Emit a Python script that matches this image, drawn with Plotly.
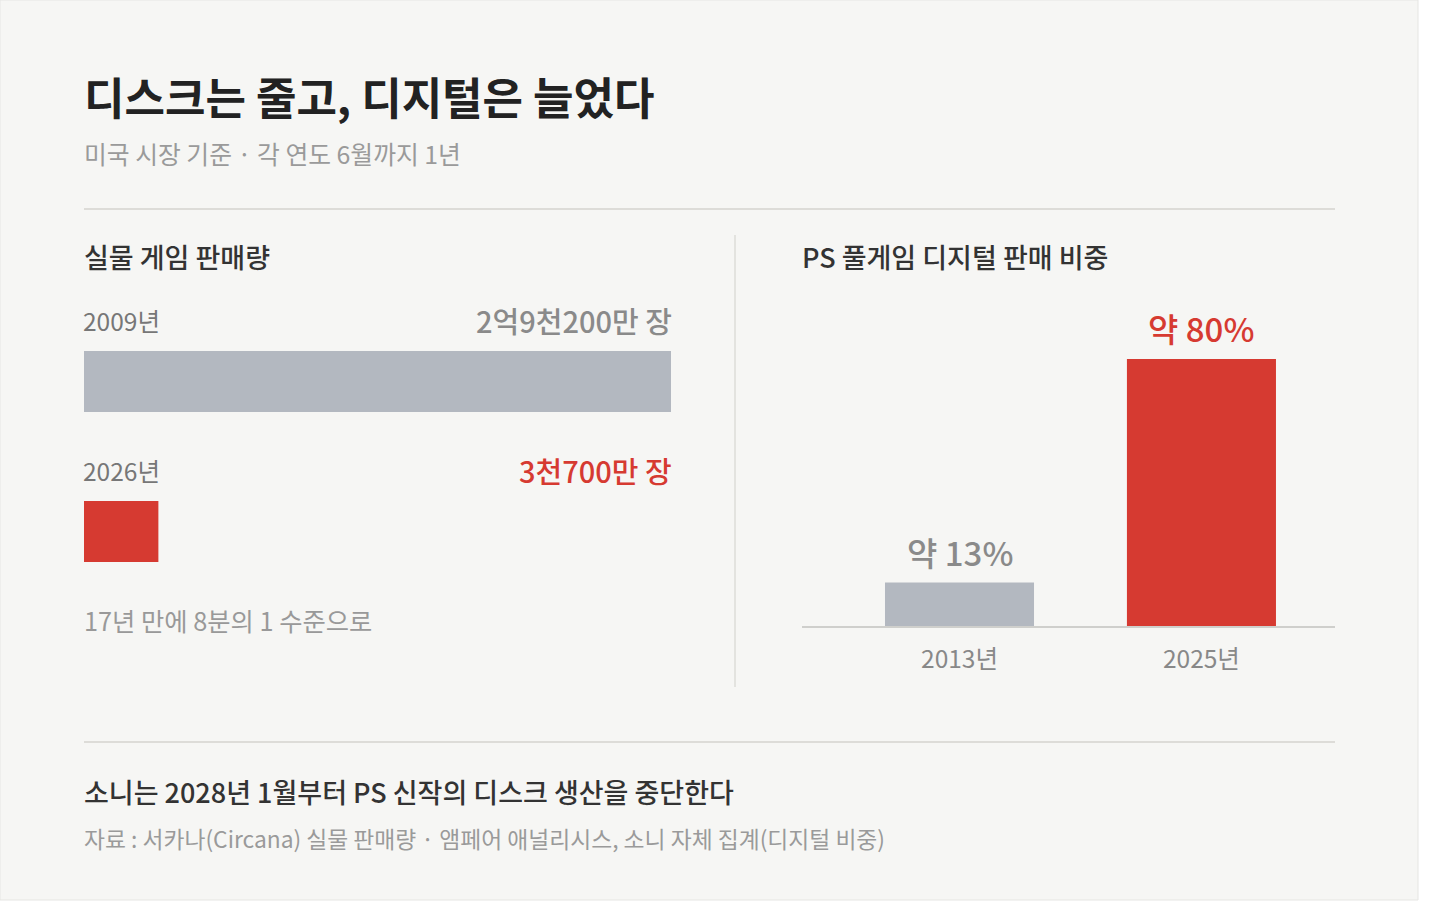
import plotly.graph_objects as go

# 실물 게임 판매량 (백만 장)
physical_years = ["2009년", "2026년"]
physical_sales = [292, 37]
physical_labels = ["2억9천200만 장", "3천700만 장"]

# PS 풀게임 디지털 판매 비중 (%)
digital_years = ["2013년", "2025년"]
digital_share = [13, 80]
digital_labels = ["약 13%", "약 80%"]

W, H = 1440, 923
bg = '#f6f6f4'
red = '#d63a31'
grey_bar = '#b3b8c0'
line_col = '#dddcd8'
FONT = "Noto Sans CJK KR"


def px(x):
    return x / W


def py(y):
    return 1 - y / H


fig = go.Figure()

# 왼쪽: 가로 막대
fig.add_trace(go.Bar(
    x=physical_sales, y=physical_years, orientation='h',
    marker=dict(color=[grey_bar, red], line_width=0),
    width=0.407, xaxis='x', yaxis='y', hoverinfo='skip',
))

# 오른쪽: 세로 막대
fig.add_trace(go.Bar(
    x=digital_years, y=digital_share,
    marker=dict(color=[grey_bar, red], line_width=0),
    width=0.616, xaxis='x2', yaxis='y2', hoverinfo='skip',
))

fig.update_layout(
    width=W, height=H,
    margin=dict(l=0, r=0, t=0, b=0),
    paper_bgcolor='white',
    plot_bgcolor='rgba(0,0,0,0)',
    showlegend=False,
    font=dict(family=FONT, color='#333'),
    xaxis=dict(domain=[px(84), px(671)], range=[0, 292], visible=False, fixedrange=True),
    yaxis=dict(domain=[py(606.5), py(306.5)], range=[1.5, -0.5], type='category',
               visible=False, fixedrange=True),
    xaxis2=dict(domain=[px(802), px(1335)], range=[-0.651, 1.552], type='category',
                anchor='y2', showline=True, linecolor='#cfcfcc', linewidth=2,
                showgrid=False, ticks='', ticklabelstandoff=11,
                tickfont=dict(size=24.5, color='#888'), fixedrange=True),
    yaxis2=dict(domain=[py(626), py(359)], range=[0, 80], anchor='x2',
                visible=False, fixedrange=True),
)

# 카드 배경과 구분선
fig.add_shape(type='rect', xref='paper', yref='paper', x0=0, x1=px(1418), y0=py(900), y1=1,
              fillcolor=bg, line=dict(color='#e6e6e3', width=1), layer='below')
for yy in (209, 742):
    fig.add_shape(type='line', xref='paper', yref='paper', x0=px(84), x1=px(1335),
                  y0=py(yy), y1=py(yy), line=dict(color=line_col, width=2))
fig.add_shape(type='line', xref='paper', yref='paper', x0=px(735), x1=px(735),
              y0=py(235), y1=py(687), line=dict(color=line_col, width=1.5))


def text(x, y, s, size, color, weight=400, anchor='left'):
    fig.add_annotation(x=px(x), y=py(y), xref='paper', yref='paper', text=s,
                       showarrow=False, xanchor=anchor, yanchor='middle',
                       font=dict(family=FONT, size=size, color=color, weight=weight))


text(82, 96, "디스크는 줄고, 디지털은 늘었다", 44, '#222', 600)
text(82, 153, "미국 시장 기준 · 각 연도 6월까지 1년", 24.8, '#9a9a9a')
text(82, 257, "실물 게임 판매량", 27, '#333', 500)
text(800, 257, "PS 풀게임 디지털 판매 비중", 27, '#333', 500)
text(82, 620, "17년 만에 8분의 1 수준으로", 25.3, '#999')
text(82, 791, "소니는 2028년 1월부터 PS 신작의 디스크 생산을 중단한다", 27, '#333', 500)
text(82, 838, "자료 : 서카나(Circana) 실물 판매량 · 앰페어 애널리시스, 소니 자체 집계(디지털 비중)", 22.8, '#9a9a9a')

# 왼쪽 막대 라벨
value_colors = ['#8a8a8a', red]
for yr, lab, col in zip(physical_years, physical_labels, value_colors):
    fig.add_annotation(x=0, y=yr, xref='x', yref='y', text=yr, showarrow=False,
                       xanchor='left', yanchor='middle', yshift=61, xshift=-3,
                       font=dict(family=FONT, size=24.5, color='#777'))
    fig.add_annotation(x=1, y=yr, xref='x domain', yref='y', text=lab, showarrow=False,
                       xanchor='right', yanchor='middle', yshift=62, xshift=3,
                       font=dict(family=FONT, size=29, color=col, weight=500))

# 오른쪽 막대 라벨
for yr, v, lab, col in zip(digital_years, digital_share, digital_labels, value_colors):
    fig.add_annotation(x=yr, y=v, xref='x2', yref='y2', text=lab, showarrow=False,
                       xanchor='center', yanchor='middle', yshift=31,
                       font=dict(family=FONT, size=33, color=col, weight=500))

fig.write_html("out.html", config={'displayModeBar': False},
               post_script="document.body.style.margin='0';")
